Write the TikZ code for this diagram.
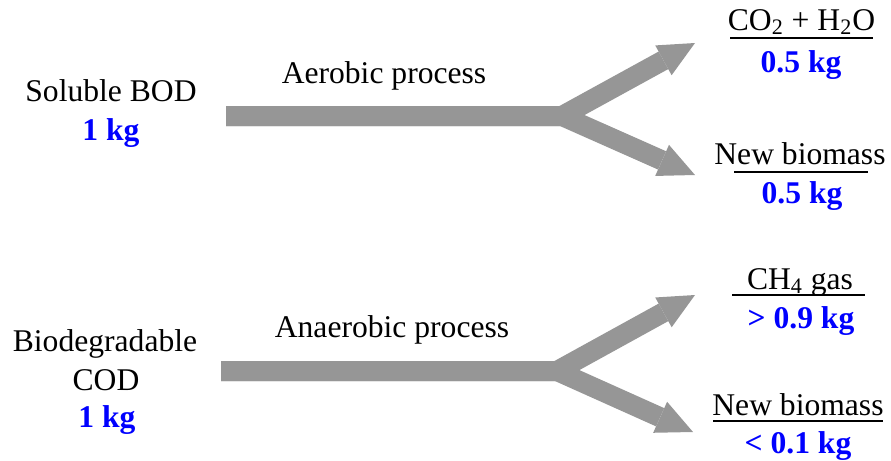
\documentclass[tikz,border=0pt]{standalone}
\usepackage{fontspec}
\setmainfont{Liberation Serif}
\usetikzlibrary{arrows.meta}
\definecolor{flowgray}{RGB}{150,150,150}

\begin{document}
\begin{tikzpicture}[x=0.5pt, y=-0.5pt,
    flow/.style={line width=10pt, flowgray, line join=miter,
        -{Triangle[width=17pt, length=18pt, line width=0pt]}},
    txt/.style={inner sep=0pt, anchor=base, font=\fontsize{15.8}{19}\selectfont},
    mass/.style={txt, text=blue, font=\fontsize{15.8}{19}\selectfont\bfseries},
    rule/.style={line width=1pt}]
    \useasboundingbox (0,0) rectangle (891,461);

    % Inputs
    \node[txt] (bod) at (111,101) {Soluble BOD};
    \node[mass] (bodkg) at (111,140) {1 kg};
    \node[txt] (cod) at (105,351) {Biodegradable};
    \node[txt] (codb) at (106,390) {COD};
    \node[mass] (codkg) at (107,427) {1 kg};

    % Process names
    \node[txt] (aero) at (384,83) {Aerobic process};
    \node[txt] (anaero) at (392,337) {Anaerobic process};

    % Aerobic flow
    \coordinate (aerostart) at (226,116);
    \coordinate (aerofork) at (562,116);
    \coordinate (aerotop) at (695,43);
    \coordinate (aerobot) at (695,175);
    \draw[flow] (aerostart) -- (aerofork) -- (aerotop);
    \draw[flow] (aerostart) -- (aerofork) -- (aerobot);

    % Anaerobic flow
    \coordinate (anaerostart) at (221,371);
    \coordinate (anaerofork) at (557,371);
    \coordinate (anaerotop) at (695,295);
    \coordinate (anaerobot) at (693,432);
    \draw[flow] (anaerostart) -- (anaerofork) -- (anaerotop);
    \draw[flow] (anaerostart) -- (anaerofork) -- (anaerobot);

    % Aerobic products
    \node[txt] (co2) at (801.5,30) {CO\textsubscript{2} + H\textsubscript{2}O};
    \draw[rule] (730,38) -- (873,38);
    \node[mass] (co2kg) at (801,72) {0.5 kg};
    \node[txt] (aerobio) at (800,164) {New biomass};
    \draw[rule] (734,172) -- (868,172);
    \node[mass] (aerobiokg) at (802,203) {0.5 kg};

    % Anaerobic products
    \node[txt] (ch4) at (800,289) {CH\textsubscript{4} gas};
    \draw[rule] (732,295) -- (865,295);
    \node[mass] (ch4kg) at (801,328) {> 0.9 kg};
    \node[txt] (anaerobio) at (798,415) {New biomass};
    \draw[rule] (713,421) -- (883,421);
    \node[mass] (anaerobiokg) at (798,453) {< 0.1 kg};
\end{tikzpicture}
\end{document}
